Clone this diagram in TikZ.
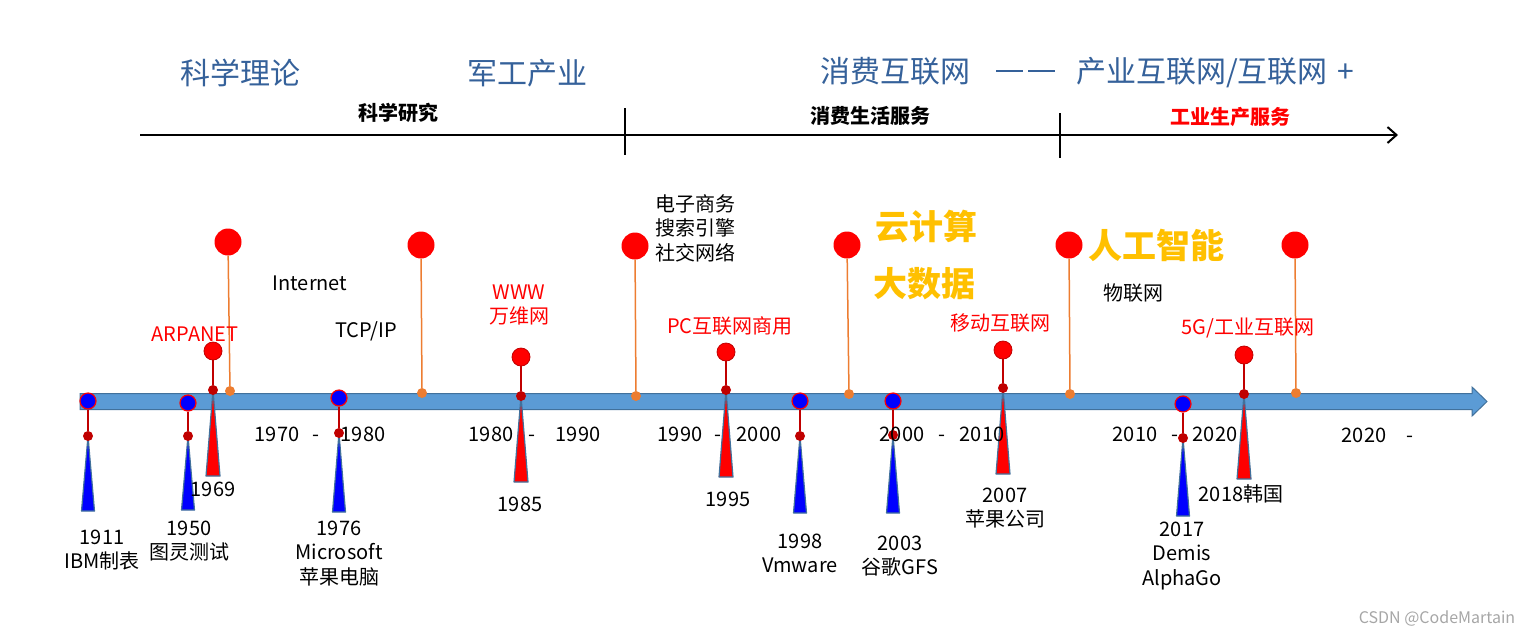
\documentclass[tikz,border=0pt]{standalone}
\usepackage{fontspec}
\setmainfont{Noto Sans CJK SC}
\usepackage{tikz}
\usetikzlibrary{arrows.meta}
\definecolor{axisblue}{HTML}{5B9BD5}
\definecolor{axisedge}{HTML}{41719C}
\definecolor{stemred}{HTML}{C00000}
\definecolor{poleorange}{HTML}{ED7D31}
\definecolor{hotyellow}{HTML}{FFC000}
\definecolor{titleblue}{HTML}{35619A}
\tikzset{
  eventtop/.style={circle, fill=red, draw=stemred, line width=0.8pt, minimum size=18pt, inner sep=0pt},
  bluetop/.style={circle, fill=blue, draw=red, line width=1.2pt, minimum size=16pt, inner sep=0pt},
  eventdot/.style={circle, fill=stemred, minimum size=10pt, inner sep=0pt},
  polehead/.style={circle, fill=red, minimum size=27pt, inner sep=0pt},
  polefoot/.style={circle, fill=poleorange, minimum size=10pt, inner sep=0pt},
  stemline/.style={stemred, line width=1.5pt},
  poleline/.style={poleorange, line width=1.5pt},
  wedge/.style={draw=axisedge, line width=1.2pt, line join=round},
  yeartext/.style={font=\fontsize{20}{24.5}\selectfont, align=center, anchor=base, inner sep=0pt},
  redtext/.style={yeartext, text=red},
  phasetext/.style={font=\fontsize{20}{24}\selectfont\bfseries, anchor=base, inner sep=0pt},
  headtext/.style={font=\fontsize{30}{36}\selectfont, text=titleblue, anchor=base, inner sep=0pt},
  hottext/.style={font=\fontsize{34}{40}\selectfont\bfseries, text=hotyellow, anchor=base, inner sep=0pt}
}
\newcommand{\twodash}{\rule[10.5pt]{27pt}{1.6pt}\hspace{5pt}\rule[10.5pt]{27pt}{1.6pt}}

\begin{document}
\begin{tikzpicture}[x=1pt, y=-1pt]
    \useasboundingbox (0,0) rectangle (1530,633);

    % Titles
    \node[headtext] (theory) at (240,84) {科学理论};
    \node[headtext] (army) at (527,84) {军工产业};
    \node[headtext, anchor=base west] (net) at (820,82) {消费互联网\hspace{26pt}\twodash\hspace{21pt}产业互联网/互联网\hspace{10pt}+};

    % Phase line
    \coordinate (phase0) at (140,135);
    \coordinate (phaseend) at (1398,135);
    \draw[line width=2pt, -{Straight Barb[length=9pt, width=16pt, line width=2pt]}] (phase0) -- (phaseend);
    \draw[line width=2pt] (625,108) -- (625,155);
    \draw[line width=2pt] (1060,113) -- (1060,158);
    \node[phasetext] (research) at (398,120) {科学研究};
    \node[phasetext] (life) at (870,123) {消费生活服务};
    \node[phasetext, text=red] (industry) at (1230,124) {工业生产服务};

    % Main axis
    \filldraw[fill=axisblue, draw=axisedge, line width=1pt] (80,393.5) -- (1472,393.5) -- (1472,387)
        -- (1487,401.5) -- (1472,416) -- (1472,409.5) -- (80,409.5) -- cycle;

    % Orange poles
    \foreach \n/\x/\xf/\yh/\yf in {a/228/230/242/391, b/421/422/245/393, c/635/636/246/396,
        d/847/849/245/394, e/1069/1070/245/394, f/1295/1296/245/393} {
        \node[polehead] (ph\n) at (\x,\yh) {};
        \node[polefoot] (pf\n) at (\xf,\yf) {};
        \draw[poleline] (ph\n) -- (pf\n);
    }

    % Blue events (below the axis)
    \foreach \n/\x/\yc/\yd/\yb in {a/88/401/436/511, b/188/403/436/510, c/339/398/433/512,
        d/800/401/436/513, e/893/401/435/513, f/1183/404/438/516} {
        \filldraw[wedge, fill=blue] (\x,\yd) -- (\x-6.5,\yb) -- (\x+6.5,\yb) -- cycle;
        \node[bluetop] (bt\n) at (\x,\yc) {};
        \node[eventdot] (bd\n) at (\x,\yd) {};
        \draw[stemline] (bt\n) -- (bd\n);
    }

    % Red events (above the axis)
    \foreach \n/\x/\yc/\yd/\yb in {a/213/351/390/476, b/521/357/396/482, c/726/352/390/477,
        d/1003/350/388/474, e/1244/355/394/479} {
        \filldraw[wedge, fill=red] (\x,\yd) -- (\x-7,\yb) -- (\x+7,\yb) -- cycle;
        \node[eventtop] (rt\n) at (\x,\yc) {};
        \node[eventdot] (rd\n) at (\x,\yd) {};
        \draw[stemline] (rt\n) -- (rd\n);
    }

    % Periods
    \foreach \xa/\ta/\xd/\xb/\tb in {277/1970/316/363/1980, 491/1980/532/578/1990,
        680/1990/718/759/2000, 902/2000/942/982/2010, 1135/2010/1175/1215/2020} {
        \node[yeartext] (from\ta) at (\xa,441) {\ta};
        \node[yeartext] (dash\ta) at (\xd,441) {-};
        \node[yeartext] (to\tb) at (\xb,441) {\tb};
    }
    \node[yeartext] (from2020) at (1364,442) {2020};
    \node[yeartext] (dash2020) at (1410,442) {-};

    % Event texts (base = last line)
    \node[yeartext] (y1911) at (102,568.5) {1911\\IBM制表};
    \node[yeartext] (y1950) at (189,559.5) {1950\\图灵测试};
    \node[yeartext] (y1969) at (213,496) {1969};
    \node[yeartext] (y1976) at (339,584) {1976\\Microsoft\\苹果电脑};
    \node[yeartext] (y1985) at (520,511) {1985};
    \node[yeartext] (y1995) at (728,506) {1995};
    \node[yeartext] (y1998) at (800,572.5) {1998\\Vmware};
    \node[yeartext] (y2003) at (900,574.5) {2003\\谷歌GFS};
    \node[yeartext] (y2007) at (1005,526.5) {2007\\苹果公司};
    \node[yeartext] (y2017) at (1182,585) {2017\\Demis\\AlphaGo};
    \node[yeartext] (y2018) at (1241,501) {2018韩国};

    \node[redtext] (arpanet) at (195,341) {ARPANET};
    \node[redtext] (www) at (519,323.5) {WWW\\万维网};
    \node[redtext] (pcnet) at (730,333) {PC互联网商用};
    \node[redtext] (mobile) at (1000,330) {移动互联网};
    \node[redtext] (fiveg) at (1248,334) {5G/工业互联网};

    \node[yeartext] (internet) at (310,290) {Internet};
    \node[yeartext] (tcpip) at (366,337) {TCP/IP};
    \node[yeartext, anchor=base west, align=left] (ecom) at (655,260) {电子商务\\搜索引擎\\社交网络};
    \node[yeartext] (iot) at (1133,300) {物联网};

    \node[hottext] (cloud) at (926,239) {云计算};
    \node[hottext] (bigdata) at (924,296) {大数据};
    \node[hottext] (ai) at (1156,258) {人工智能};

    % Watermark
    \node[font=\fontsize{16}{18}\selectfont, text=gray!70, anchor=base, inner sep=0pt] (mark) at (1437,623) {CSDN @CodeMartain};
\end{tikzpicture}
\end{document}
